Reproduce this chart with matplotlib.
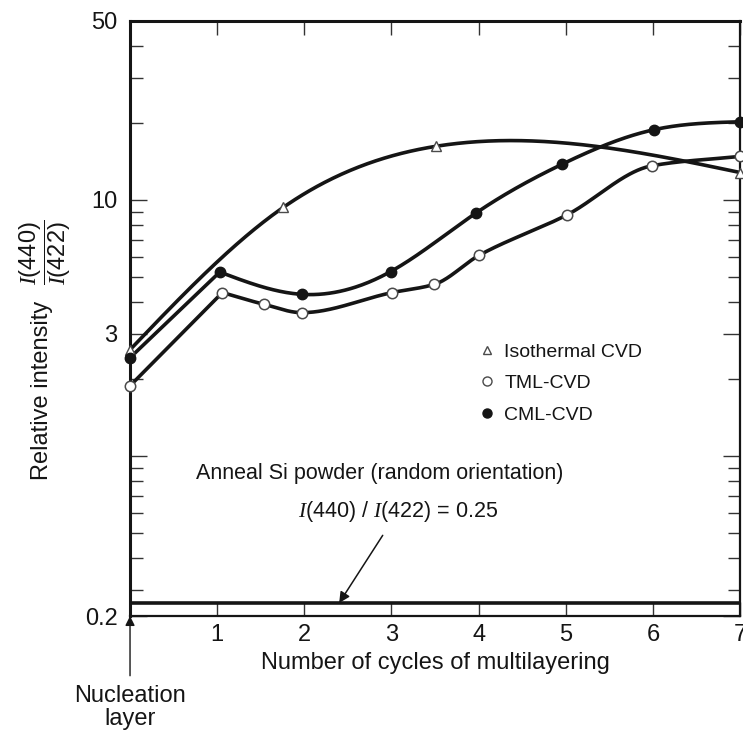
import numpy as np
import matplotlib
matplotlib.use("Agg")
import matplotlib.pyplot as plt
from matplotlib.lines import Line2D

plt.rcParams["font.family"] = ["Liberation Sans", "DejaVu Sans"]
plt.rcParams["mathtext.fontset"] = "custom"
plt.rcParams["mathtext.rm"] = "Liberation Sans"
plt.rcParams["mathtext.it"] = "Liberation Serif:italic"

INK = "#151515"
EDGE = "#4a4a4a"

# I(440)/I(422) after each multilayering cycle
ISO_X = [0.0, 1.76, 3.51, 7.0]
ISO_Y = [2.60, 9.36, 16.2, 12.8]
TML_X = [0.0, 1.06, 1.54, 1.97, 3.01, 3.49, 4.01, 5.01, 5.99, 7.0]
TML_Y = [1.88, 4.35, 3.91, 3.63, 4.35, 4.68, 6.09, 8.73, 13.6, 14.8]
CML_X = [0.0, 1.03, 1.97, 2.99, 3.97, 4.96, 6.01, 7.0]
CML_Y = [2.42, 5.23, 4.28, 5.25, 8.89, 13.8, 18.8, 20.2]
POWDER_RATIO = 0.25

SERIES_NAMES = ["Isothermal CVD", "TML-CVD", "CML-CVD"]

X_TICKS = [0, 1, 2, 3, 4, 5, 6, 7]
X_LABELS = ["", "1", "2", "3", "4", "5", "6", "7"]
Y_MAJOR = [0.2, 1, 3, 10, 50]
Y_LABELS = ["0.2", "", "3", "10", "50"]
Y_MINOR = [0.3, 0.4, 0.5, 0.6, 0.7, 0.8, 0.9, 2, 4, 5, 6, 7, 8, 9, 20, 30, 40]

# log axis that turns linear (compressed) under 0.3
KNEE = 0.3
LOW_SLOPE = 1.02


def fwd(y):
    y = np.asarray(y, float)
    lk = np.log10(KNEE)
    return np.where(y >= KNEE, np.log10(np.maximum(y, KNEE)),
                    lk - (KNEE - y) * LOW_SLOPE)


def inv(f):
    f = np.asarray(f, float)
    lk = np.log10(KNEE)
    return np.where(f >= lk, 10.0 ** np.minimum(f, 300),
                    KNEE - (lk - f) / LOW_SLOPE)


def natural_spline(x, y, xs):
    x = np.asarray(x, float)
    y = np.asarray(y, float)
    n = len(x)
    h = np.diff(x)
    A = np.zeros((n, n))
    r = np.zeros(n)
    A[0, 0] = A[-1, -1] = 1.0
    for i in range(1, n - 1):
        A[i, i - 1] = h[i - 1]
        A[i, i] = 2 * (h[i - 1] + h[i])
        A[i, i + 1] = h[i]
        r[i] = 3 * ((y[i + 1] - y[i]) / h[i] - (y[i] - y[i - 1]) / h[i - 1])
    c = np.linalg.solve(A, r)
    b = (y[1:] - y[:-1]) / h - h * (2 * c[:-1] + c[1:]) / 3
    d = (c[1:] - c[:-1]) / (3 * h)
    k = np.clip(np.searchsorted(x, xs) - 1, 0, n - 2)
    dx = xs - x[k]
    return y[k] + b[k] * dx + c[k] * dx ** 2 + d[k] * dx ** 3


def pchip(x, y, xs):
    # monotone piecewise cubic (Fritsch-Carlson), no overshoot between points
    x = np.asarray(x, float)
    y = np.asarray(y, float)
    n = len(x)
    h = np.diff(x)
    delta = np.diff(y) / h
    m = np.zeros(n)
    m[0], m[-1] = delta[0], delta[-1]
    for k in range(1, n - 1):
        if delta[k - 1] * delta[k] > 0:
            w1 = 2 * h[k] + h[k - 1]
            w2 = h[k] + 2 * h[k - 1]
            m[k] = (w1 + w2) / (w1 / delta[k - 1] + w2 / delta[k])
    k = np.clip(np.searchsorted(x, xs) - 1, 0, n - 2)
    t = (xs - x[k]) / h[k]
    h00 = 2 * t ** 3 - 3 * t ** 2 + 1
    h10 = t ** 3 - 2 * t ** 2 + t
    h01 = -2 * t ** 3 + 3 * t ** 2
    h11 = t ** 3 - t ** 2
    return h00 * y[k] + h10 * h[k] * m[k] + h01 * y[k + 1] + h11 * h[k] * m[k + 1]


def trend(x, y, interp=natural_spline, kink=True):
    # in log space; optionally a straight rise up to the first cycle
    x = np.asarray(x, float)
    ly = np.log10(y)
    if not kink:
        xs = np.linspace(x[0], x[-1], 500)
        return xs, 10 ** interp(x, ly, xs)
    xs1 = np.linspace(x[0], x[1], 20)
    ys1 = np.interp(xs1, x[:2], ly[:2])
    xs2 = np.linspace(x[1], x[-1], 400)
    ys2 = interp(x[1:], ly[1:], xs2)
    return np.r_[xs1, xs2], 10 ** np.r_[ys1, ys2]


fig = plt.figure(figsize=(7.43, 7.31), dpi=100)
fig.set_facecolor("white")
ax = fig.add_axes([0.175, 0.1573, 0.821, 0.814])
ax.set_yscale("function", functions=(fwd, inv))
ax.set_xlim(0, 7)
ax.set_ylim(0.2, 50)

# trend curves
line_kw = dict(color=INK, linewidth=2.6, solid_capstyle="round", zorder=3)
ax.plot(*trend(ISO_X, ISO_Y, kink=False), **line_kw)
ax.plot(*trend(TML_X, TML_Y, interp=pchip), **line_kw)
ax.plot(*trend(CML_X, CML_Y), **line_kw)
ax.axhline(POWDER_RATIO, color=INK, linewidth=2.6, zorder=3)

# measured points
ax.plot(ISO_X, ISO_Y, ls="none", marker="^", ms=7, mfc="white", mec=EDGE,
        mew=1.0, zorder=5, clip_on=False)
ax.plot(TML_X, TML_Y, ls="none", marker="o", ms=7.5, mfc="white", mec=EDGE,
        mew=1.1, zorder=5, clip_on=False)
ax.plot(CML_X, CML_Y, ls="none", marker="o", ms=7.5, mfc=INK, mec=INK,
        zorder=5, clip_on=False)

# frame and ticks
for side, lw in (("left", 2.2), ("top", 2.2), ("bottom", 1.6), ("right", 1.6)):
    ax.spines[side].set_linewidth(lw)
    ax.spines[side].set_color(INK)
ax.set_xticks(X_TICKS, X_LABELS)
ax.set_yticks(Y_MAJOR, Y_LABELS)
ax.set_yticks(Y_MINOR, minor=True)
ax.tick_params(axis="both", which="both", direction="in", top=True, right=True,
               color="#333333", width=1.0, labelcolor=INK)
ax.tick_params(axis="x", length=10, labelsize=17, pad=6)
ax.tick_params(axis="y", which="major", length=12, labelsize=17, pad=9)
ax.tick_params(axis="y", which="minor", length=9)

ax.set_xlabel("Number of cycles of multilayering", fontsize=17, color=INK,
              labelpad=4)
fig.text(42 / 743, 1 - 390 / 731, "Relative intensity", rotation=90,
         fontsize=17, color=INK, ha="center", va="center")
fig.text(45 / 743, 1 - 252 / 731, r"$\dfrac{I(440)}{I(422)}$", rotation=90,
         fontsize=17, color=INK, ha="center", va="center")

# legend
handles = [
    Line2D([], [], ls="none", marker="^", ms=6, mfc="white", mec=EDGE, mew=1.0),
    Line2D([], [], ls="none", marker="o", ms=6.5, mfc="white", mec=EDGE, mew=1.0),
    Line2D([], [], ls="none", marker="o", ms=6.5, mfc=INK, mec=INK),
]
ax.legend(handles, SERIES_NAMES, loc="upper left", bbox_to_anchor=(0.572, 0.459),
          frameon=False, fontsize=14, handlelength=0.8, handletextpad=0.5,
          labelspacing=0.72, borderaxespad=0, borderpad=0, labelcolor=INK)

# random-orientation reference
ax.text(0.41, 0.240, "Anneal Si powder (random orientation)", transform=ax.transAxes,
        fontsize=15.5, color=INK, ha="center", va="center")
ax.annotate(r"$I$(440) / $I$(422) = 0.25", xy=(2.40, POWDER_RATIO),
            xytext=(0.439, 0.175), textcoords="axes fraction", fontsize=15.5,
            color=INK, ha="center", va="center",
            arrowprops=dict(arrowstyle="-|>", color=INK, lw=1.1,
                            mutation_scale=16, shrinkA=7, shrinkB=0))

ax.annotate("Nucleation\nlayer", xy=(0, 0.2), xytext=(0, -50),
            textcoords="offset points", fontsize=17, color=INK, ha="center",
            va="top", linespacing=1.05, annotation_clip=False,
            arrowprops=dict(arrowstyle="-|>", color=INK, lw=1.0,
                            mutation_scale=14, shrinkA=5, shrinkB=0))

fig.savefig("out.png", dpi=100, facecolor="white")
